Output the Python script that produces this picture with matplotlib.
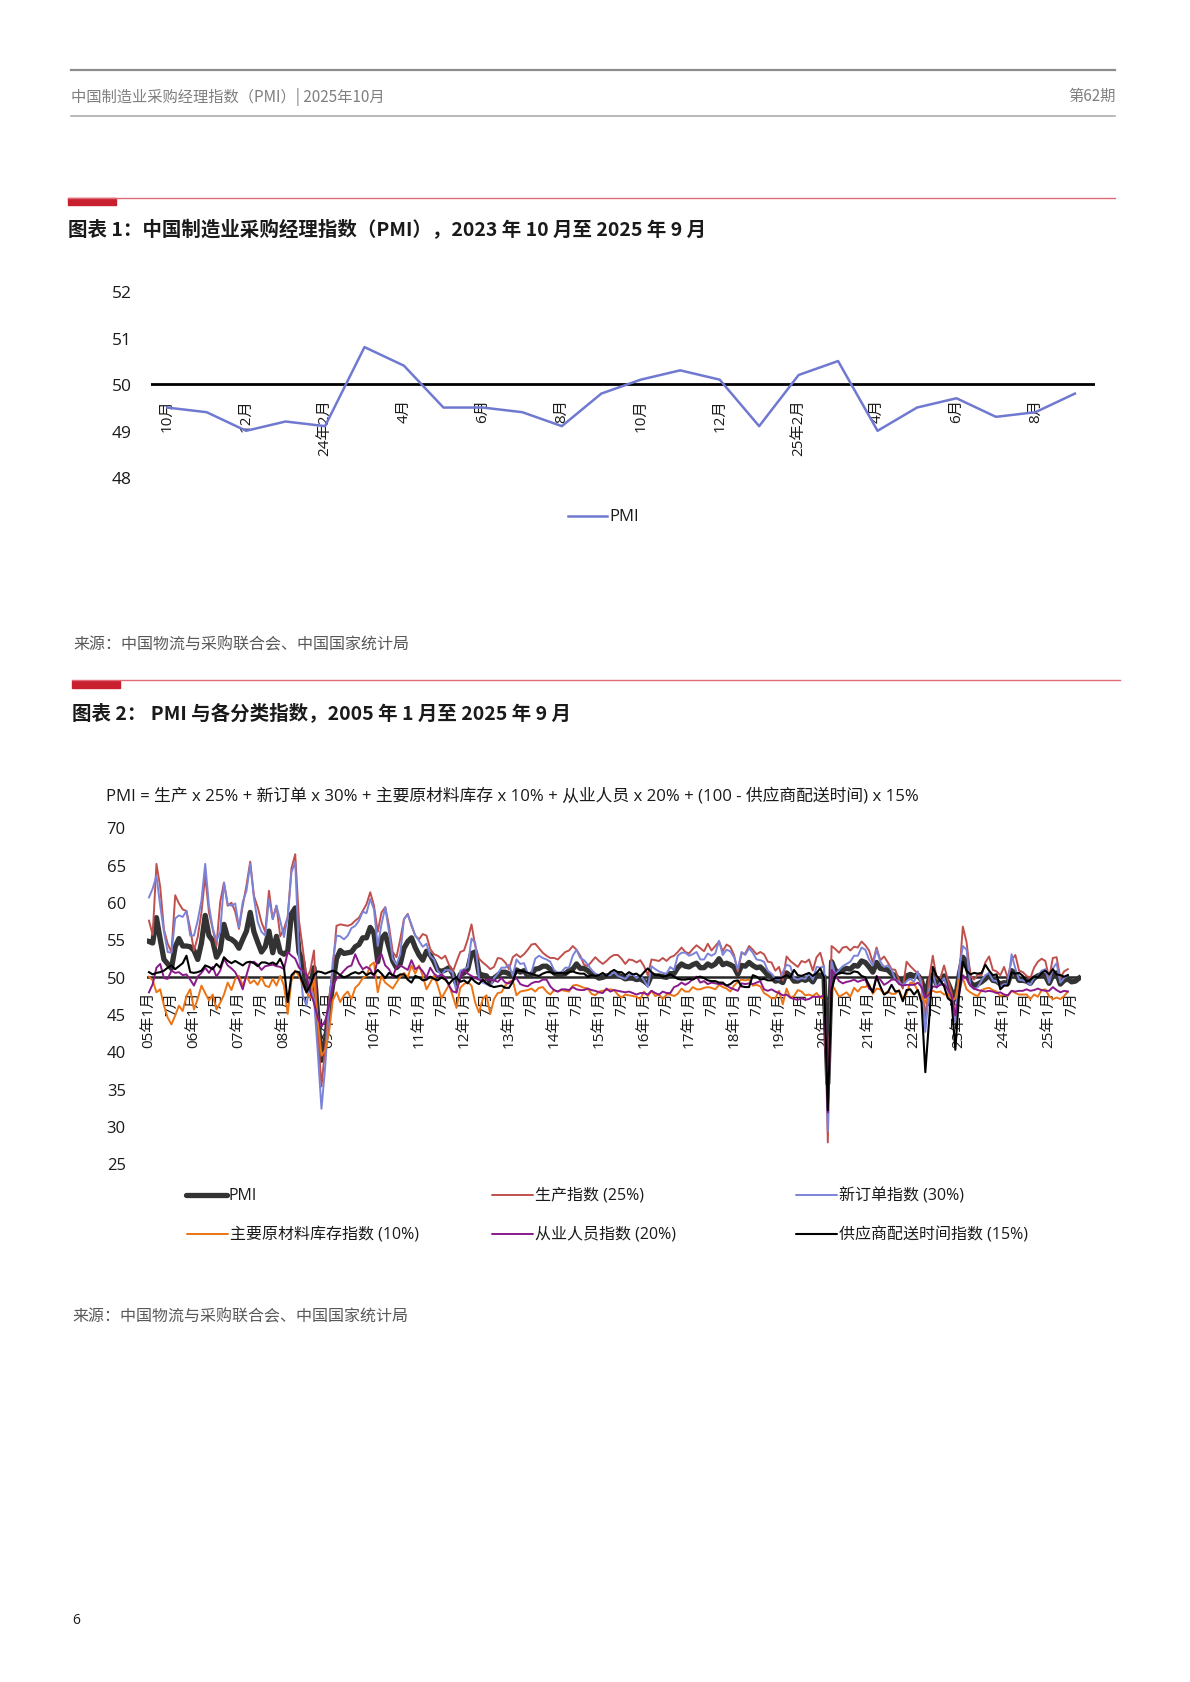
import matplotlib
matplotlib.use('Agg')
import matplotlib.pyplot as plt
from matplotlib.lines import Line2D
from matplotlib.patches import Rectangle
import numpy as np

plt.rcParams['font.family'] = ['Open Sans', 'Noto Sans CJK SC', 'DejaVu Sans']
CJK = ['Noto Sans CJK SC', 'DejaVu Sans']

W, H = 1190, 1683

# ---- data: PMI 2005-01 .. 2025-09 (monthly)
pmi = [
    54.7, 54.5, 57.9, 55.0, 52.3, 51.7, 51.1, 54.0, 55.1, 54.1, 54.1, 54.0,  # 2005
    53.5, 52.3, 54.5, 58.2, 55.5, 54.8, 52.6, 53.5, 57.0, 55.2, 55.0, 54.6,  # 2006
    53.8, 55.0, 56.1, 58.6, 56.0, 54.6, 53.3, 54.0, 56.1, 53.2, 55.4, 53.3,  # 2007
    53.0, 53.4, 58.4, 59.2, 53.3, 52.0, 48.4, 48.4, 51.2, 44.6, 38.8, 41.2,  # 2008
    45.3, 49.0, 52.4, 53.5, 53.1, 53.2, 53.3, 54.0, 54.3, 55.2, 55.2, 56.6,  # 2009
    55.8, 52.0, 55.1, 55.7, 53.9, 52.1, 51.2, 51.7, 53.8, 54.7, 55.2, 53.9,  # 2010
    52.9, 52.2, 53.4, 52.9, 52.0, 50.9, 50.7, 50.9, 51.2, 50.4, 49.0, 50.3,  # 2011
    50.5, 51.0, 53.1, 53.3, 50.4, 50.2, 50.1, 49.2, 49.8, 50.2, 50.6, 50.6,  # 2012
    50.4, 50.1, 50.9, 50.6, 50.8, 50.1, 50.3, 51.0, 51.1, 51.4, 51.4, 51.0,  # 2013
    50.5, 50.2, 50.3, 50.4, 50.8, 51.0, 51.7, 51.1, 51.1, 50.8, 50.3, 50.1,  # 2014
    49.8, 49.9, 50.1, 50.1, 50.2, 50.2, 50.0, 49.7, 49.8, 49.8, 49.6, 49.7,  # 2015
    49.4, 49.0, 50.2, 50.1, 50.1, 50.0, 49.9, 50.4, 50.4, 51.2, 51.7, 51.4,  # 2016
    51.3, 51.6, 51.8, 51.2, 51.2, 51.7, 51.4, 51.7, 52.4, 51.6, 51.8, 51.6,  # 2017
    51.3, 50.3, 51.5, 51.4, 51.9, 51.5, 51.2, 51.3, 50.8, 50.2, 50.0, 49.4,  # 2018
    49.5, 49.2, 50.5, 50.1, 49.4, 49.4, 49.7, 49.5, 49.8, 49.3, 50.2, 50.2,  # 2019
    50.0, 35.7, 52.0, 50.8, 50.6, 50.9, 51.1, 51.0, 51.5, 51.4, 52.1, 51.9,  # 2020
    51.3, 50.6, 51.9, 51.1, 51.0, 50.9, 50.4, 50.1, 49.6, 49.2, 50.1, 50.3,  # 2021
    50.1, 50.2, 49.5, 47.4, 49.6, 50.2, 49.0, 49.4, 50.1, 49.2, 48.0, 47.0,  # 2022
    50.1, 52.6, 51.9, 49.2, 48.8, 49.0, 49.3, 49.7, 50.2, 49.5, 49.4, 49.0,  # 2023
    49.2, 49.1, 50.8, 50.4, 49.5, 49.5, 49.4, 49.1, 49.8, 50.1, 50.3, 50.1,  # 2024
    49.1, 50.2, 50.5, 49.0, 49.5, 49.7, 49.3, 49.4, 49.8,                    # 2025
]

# sub-indices 2005-01 .. 2025-06
production = [
    57.5, 55.6, 65.1, 62.0, 56.3, 54.4, 53.3, 60.9, 59.8, 59.0, 58.8, 56.4,
    53.5, 55.3, 58.6, 63.5, 58.6, 56.4, 54.1, 60.0, 62.6, 59.5, 59.9, 58.7,
    56.4, 59.5, 62.2, 65.4, 60.8, 59.3, 57.3, 56.0, 61.5, 57.7, 59.5, 55.4,
    56.4, 58.0, 64.5, 66.4, 57.5, 53.8, 49.8, 50.8, 53.5, 43.0, 35.3, 40.5,
    46.5, 51.0, 56.8, 57.0, 56.9, 56.8, 57.0, 57.5, 57.9, 58.8, 59.7, 61.3,
    59.5, 56.0, 58.6, 59.3, 56.8, 53.3, 52.6, 55.0, 57.7, 58.4, 56.8, 55.5,
    55.0, 55.7, 55.5, 53.7, 53.0, 52.8, 52.4, 52.8, 51.6, 50.6, 52.0, 53.3,
    53.5, 55.0, 57.0, 54.1, 52.4, 51.9, 51.5, 51.0, 51.3, 52.5, 52.4, 51.9,
    51.0, 52.6, 53.0, 52.6, 53.0, 53.6, 54.3, 54.4, 53.8, 53.2, 52.8, 52.5,
    52.5, 52.3, 52.8, 53.3, 53.5, 54.1, 53.6, 52.8, 51.6, 51.4, 52.0, 52.6,
    52.1, 51.7, 52.1, 52.6, 52.9, 52.9, 52.4, 51.7, 52.3, 52.2, 51.9, 52.2,
    51.4, 50.2, 52.3, 52.2, 52.1, 52.5, 52.1, 52.6, 52.8, 53.3, 53.9, 53.3,
    53.1, 53.7, 54.2, 53.8, 53.4, 54.4, 53.5, 54.1, 54.7, 53.4, 54.3, 54.0,
    52.9, 50.7, 53.1, 53.1, 54.1, 53.6, 53.0, 53.3, 53.0, 52.0, 51.9, 50.8,
    51.3, 49.5, 52.7, 52.1, 51.7, 51.3, 52.1, 51.9, 52.3, 50.8, 52.6, 53.2,
    51.3, 27.8, 54.1, 53.7, 53.2, 53.9, 54.0, 53.5, 54.0, 53.9, 54.7, 54.2,
    53.5, 51.9, 53.9, 52.2, 52.7, 51.9, 51.0, 50.9, 49.5, 48.4, 52.0, 51.4,
    50.9, 50.4, 49.5, 44.4, 49.7, 52.8, 49.8, 49.8, 51.5, 49.6, 47.8, 44.6,
    49.8, 56.7, 54.6, 50.2, 49.6, 50.3, 50.2, 51.9, 52.7, 50.9, 50.7, 50.2,
    51.3, 49.8, 52.2, 52.9, 50.8, 50.6, 50.1, 49.8, 51.2, 52.0, 52.4, 52.1,
    49.8, 52.5, 52.6, 49.8, 50.7, 51.0,
]

new_orders = [
    60.6, 61.8, 63.5, 59.5, 56.0, 53.3, 53.2, 57.8, 58.2, 58.0, 58.8, 55.5,
    55.5, 57.5, 60.2, 65.1, 59.5, 56.5, 54.8, 56.0, 62.6, 59.7, 59.5, 59.8,
    56.6, 60.0, 61.5, 65.1, 60.5, 57.3, 56.0, 55.5, 60.4, 57.7, 59.5, 57.5,
    55.3, 58.0, 64.0, 65.3, 53.0, 47.5, 46.1, 49.5, 47.0, 40.0, 32.3, 38.0,
    45.5, 52.0, 55.5, 55.4, 55.0, 55.5, 56.5, 56.8, 57.5, 58.7, 58.5, 60.4,
    59.0, 54.1, 57.0, 59.3, 56.0, 52.4, 51.6, 53.0, 57.7, 58.3, 57.0, 55.5,
    54.8, 54.0, 54.4, 52.8, 52.3, 50.8, 50.2, 50.9, 50.9, 50.5, 47.8, 50.8,
    51.0, 51.3, 55.1, 54.5, 49.8, 49.2, 49.0, 48.7, 49.8, 50.4, 51.2, 51.2,
    51.6, 50.1, 52.3, 51.7, 51.8, 50.4, 50.6, 52.4, 52.8, 52.5, 52.3, 52.0,
    50.9, 50.5, 50.6, 51.2, 51.2, 52.8, 53.6, 52.5, 52.2, 51.6, 50.9, 50.4,
    50.2, 50.4, 50.2, 50.2, 50.6, 50.1, 49.9, 49.7, 50.2, 50.3, 49.8, 50.2,
    49.5, 48.6, 51.4, 51.0, 50.7, 50.5, 50.4, 51.3, 50.9, 52.8, 53.2, 53.2,
    52.8, 53.0, 53.3, 52.3, 52.3, 53.1, 52.8, 53.1, 54.8, 52.9, 53.6, 53.4,
    52.6, 51.0, 53.3, 52.9, 53.8, 53.2, 52.3, 52.2, 52.0, 50.8, 50.4, 49.7,
    49.6, 50.6, 51.6, 51.4, 49.8, 49.6, 49.8, 49.7, 50.5, 49.6, 51.3, 51.2,
    51.4, 29.3, 52.0, 50.2, 50.9, 51.4, 51.7, 52.0, 52.8, 52.8, 53.9, 53.6,
    52.3, 51.5, 53.6, 52.0, 51.3, 51.5, 50.9, 49.6, 49.3, 48.8, 49.4, 49.7,
    49.3, 50.7, 48.8, 42.6, 48.2, 50.4, 48.5, 49.2, 49.8, 48.1, 46.4, 43.9,
    50.9, 54.1, 53.6, 48.8, 48.3, 48.6, 49.5, 50.2, 50.5, 49.5, 49.4, 48.7,
    49.0, 49.0, 53.0, 51.1, 49.6, 49.5, 49.3, 48.9, 49.9, 50.0, 50.8, 51.0,
    49.2, 51.1, 51.8, 49.2, 49.8, 50.2,
]

inventory = [
    50.0, 49.5, 47.9, 48.3, 46.1, 44.5, 43.6, 44.8, 46.1, 45.4, 47.4, 48.3,
    45.6, 47.0, 48.8, 47.8, 46.8, 47.6, 45.6, 46.5, 47.6, 49.2, 48.2, 49.7,
    50.1, 48.8, 50.1, 49.1, 49.5, 48.9, 49.9, 48.8, 48.6, 49.7, 48.8, 50.1,
    48.8, 45.0, 49.5, 50.8, 50.1, 49.0, 47.9, 47.2, 49.6, 44.1, 39.4, 40.2,
    42.5, 46.8, 47.9, 46.6, 47.5, 48.0, 47.0, 48.5, 49.0, 49.8, 50.1, 51.5,
    51.9, 47.9, 50.1, 49.2, 48.8, 48.4, 49.2, 50.0, 50.5, 49.9, 51.5, 50.4,
    51.5, 50.1, 48.3, 49.2, 50.1, 48.8, 47.1, 48.0, 48.9, 47.4, 45.8, 48.5,
    49.0, 49.3, 48.8, 46.5, 45.2, 47.0, 47.5, 45.0, 47.0, 47.8, 47.9, 48.8,
    49.3, 49.5, 47.5, 48.0, 48.1, 48.2, 48.4, 48.0, 48.5, 48.6, 48.0, 47.6,
    48.2, 48.0, 48.2, 48.1, 48.0, 48.8, 48.9, 48.7, 48.5, 48.4, 47.7, 47.5,
    48.0, 48.1, 48.2, 48.3, 48.2, 47.6, 47.2, 47.6, 47.5, 47.4, 47.3, 47.0,
    48.0, 47.4, 48.1, 47.4, 47.6, 47.0, 47.6, 47.6, 47.4, 47.7, 48.4, 48.0,
    48.0, 48.6, 48.3, 48.3, 48.5, 48.6, 48.5, 48.3, 48.9, 48.6, 48.4, 48.0,
    48.8, 49.3, 49.6, 49.5, 49.6, 48.8, 48.9, 48.7, 47.8, 47.5, 47.1, 47.1,
    48.1, 46.3, 48.4, 47.2, 47.4, 48.2, 48.0, 47.5, 47.6, 47.4, 47.8, 47.2,
    47.1, 32.9, 49.0, 48.2, 47.3, 47.6, 47.9, 47.3, 48.5, 48.0, 48.6, 48.6,
    49.0, 47.7, 48.4, 48.3, 47.7, 48.0, 47.7, 47.7, 48.2, 47.0, 47.7, 49.2,
    49.1, 48.1, 47.3, 46.5, 47.9, 48.1, 47.9, 48.0, 47.6, 47.7, 46.7, 47.1,
    49.6, 49.8, 48.3, 47.9, 47.6, 47.4, 48.2, 48.4, 48.5, 48.2, 48.0, 47.4,
    47.6, 47.4, 48.1, 47.8, 47.6, 47.6, 47.6, 47.0, 47.6, 47.3, 48.2, 48.3,
    47.4, 47.0, 47.2, 47.0, 47.4, 48.0,
]

employment = [
    47.9, 49.0, 51.2, 51.7, 49.8, 49.7, 50.8, 50.5, 50.6, 50.2, 50.3, 49.6,
    48.8, 50.0, 50.5, 51.2, 50.5, 51.3, 50.0, 50.8, 52.4, 51.5, 51.1, 50.6,
    49.6, 48.3, 50.2, 51.9, 52.0, 51.6, 50.9, 51.4, 51.5, 51.6, 51.4, 51.3,
    51.0, 53.3, 52.8, 52.4, 51.2, 50.8, 50.3, 47.9, 46.5, 44.5, 43.3, 44.1,
    46.1, 48.8, 49.7, 50.2, 50.8, 51.3, 51.5, 53.0, 51.8, 51.0, 51.3, 51.0,
    50.0, 52.4, 53.0, 51.5, 51.0, 50.0, 51.3, 51.5, 51.2, 50.9, 52.2, 51.0,
    51.3, 50.7, 49.9, 51.2, 50.4, 50.0, 50.3, 49.9, 48.8, 48.0, 47.9, 49.9,
    50.9, 50.4, 50.1, 49.8, 49.6, 49.4, 49.6, 49.6, 49.5, 49.3, 49.8, 49.2,
    49.1, 49.5, 49.8, 49.0, 48.8, 48.7, 49.1, 49.3, 49.3, 49.6, 49.6, 48.7,
    48.2, 48.0, 48.3, 48.3, 48.2, 48.6, 48.3, 48.2, 48.2, 48.4, 48.2, 48.1,
    47.9, 47.8, 48.4, 48.0, 48.2, 48.1, 48.0, 47.9, 48.0, 47.8, 47.6, 47.8,
    47.8, 47.6, 48.1, 47.8, 47.6, 48.0, 47.8, 47.8, 48.6, 48.8, 49.2, 48.9,
    49.2, 49.7, 50.0, 49.2, 49.4, 49.0, 49.2, 49.1, 49.0, 49.0, 48.8, 48.5,
    48.3, 48.1, 49.1, 49.0, 49.1, 49.0, 49.2, 49.4, 48.3, 48.1, 48.3, 48.0,
    47.8, 47.5, 47.6, 47.2, 47.0, 46.9, 47.1, 46.9, 47.0, 47.3, 47.3, 47.3,
    47.5, 31.8, 50.9, 50.2, 49.4, 49.1, 49.3, 49.4, 49.6, 49.3, 49.5, 49.6,
    48.4, 48.1, 50.1, 49.6, 48.9, 49.2, 49.6, 49.6, 49.0, 48.8, 48.9, 48.9,
    48.9, 49.2, 48.6, 47.2, 47.6, 48.7, 48.6, 48.9, 49.0, 48.3, 47.4, 44.8,
    47.7, 50.2, 49.7, 48.8, 48.4, 48.2, 48.1, 48.0, 48.1, 48.0, 47.8, 47.9,
    47.6, 47.5, 48.1, 48.0, 48.1, 48.1, 48.3, 48.1, 48.2, 48.4, 48.2, 48.1,
    48.1, 48.6, 48.2, 47.9, 48.1, 48.0,
]

delivery = [
    50.6, 50.3, 50.5, 50.6, 50.8, 51.2, 51.5, 51.0, 51.4, 51.8, 52.8, 50.6,
    50.5, 50.6, 50.8, 51.5, 51.3, 51.0, 51.7, 51.2, 52.6, 52.1, 51.8, 52.1,
    51.8, 51.5, 51.9, 52.0, 51.8, 51.4, 51.9, 51.9, 51.7, 51.9, 51.6, 52.4,
    51.2, 46.6, 50.2, 50.7, 50.6, 49.2, 47.9, 48.8, 50.2, 50.7, 50.6, 50.4,
    50.6, 50.8, 50.6, 50.2, 49.9, 50.1, 50.4, 50.6, 50.4, 50.7, 50.2, 50.5,
    50.3, 50.9, 50.4, 49.8, 50.5, 50.2, 50.0, 50.3, 50.3, 49.6, 49.2, 50.1,
    49.9, 49.5, 49.6, 50.0, 49.7, 49.5, 49.9, 49.6, 49.0, 49.6, 49.9, 49.3,
    49.5, 49.1, 49.8, 49.3, 49.0, 49.6, 49.1, 48.8, 48.6, 48.7, 48.8, 48.5,
    48.5, 49.3, 50.8, 50.8, 50.7, 50.5, 50.4, 50.2, 50.1, 50.4, 50.6, 50.6,
    50.4, 50.5, 50.5, 50.4, 50.6, 50.7, 50.5, 50.4, 50.4, 50.0, 50.2, 50.1,
    50.2, 50.5, 50.1, 50.6, 50.9, 50.6, 50.6, 50.2, 50.6, 50.3, 50.4, 50.0,
    50.6, 51.1, 50.6, 50.2, 50.2, 50.0, 50.1, 50.3, 50.0, 49.7, 49.6, 49.6,
    49.7, 49.6, 49.9, 50.0, 49.8, 49.5, 49.4, 49.4, 49.2, 49.2, 48.8, 49.0,
    49.4, 49.5, 48.7, 48.6, 48.6, 50.2, 50.0, 49.6, 49.7, 49.5, 49.5, 49.8,
    49.8, 49.9, 50.2, 49.9, 50.9, 50.2, 50.1, 50.3, 50.5, 50.1, 50.5, 51.1,
    49.9, 32.1, 48.2, 50.1, 50.5, 50.5, 50.4, 50.4, 50.7, 50.6, 50.1, 49.9,
    48.8, 47.9, 50.0, 48.7, 47.6, 47.9, 48.9, 48.0, 48.1, 46.7, 48.2, 48.3,
    47.6, 48.2, 46.5, 37.2, 44.1, 51.3, 50.1, 49.5, 48.7, 47.1, 46.7, 40.2,
    47.6, 52.0, 50.8, 50.3, 50.5, 50.4, 50.5, 51.6, 50.8, 50.2, 50.3, 48.3,
    48.8, 48.8, 50.6, 50.4, 50.5, 50.1, 49.3, 49.6, 50.0, 49.9, 50.5, 50.8,
    50.3, 51.0, 50.3, 50.2, 50.0, 50.2,
]

years = list(range(2005, 2026))
recent_labels = ['10月', '12月', '24年2月', '4月', '6月', '8月',
                 '10月', '12月', '25年2月', '4月', '6月', '8月']
pmi_recent = pmi[-24:]  # 2023-10 .. 2025-09


def fx(x):
    return x / W


def fy(y):
    return 1 - y / H


def px_axes(x0, y0, x1, y1):
    return fig.add_axes([fx(x0), fy(y1), (x1 - x0) / W, (y1 - y0) / H])


fig = plt.figure(figsize=(W / 100, H / 100), dpi=100)

# ---- page header
fig.add_artist(Line2D([fx(70.6), fx(1115.3)], [fy(70.7)] * 2, color='#8c8c8c', lw=1.6))
fig.add_artist(Line2D([fx(70.6), fx(1115.3)], [fy(117.3)] * 2, color='#a6a6a6', lw=1.1))
fig.text(fx(70.6), fy(96.7), '中国制造业采购经理指数（PMI）| 2025年10月', color='#7f7f7f',
         fontsize=11, va='center', ha='left', family=CJK)
fig.text(fx(1115.3), fy(96.7), '第62期', color='#7f7f7f', fontsize=11, va='center',
         ha='right', family=CJK)


def section_bar(x0, x1, y):
    fig.add_artist(Line2D([fx(x0), fx(x1)], [fy(y)] * 2, color='#E06B78', lw=1.0))
    fig.add_artist(Rectangle((fx(x0), fy(y + 7.5)), 48 / W, 7 / H, color='#C8202F',
                             transform=fig.transFigure))


section_bar(68.3, 1115.3, 198.6)
fig.text(fx(68.3), fy(230), '图表 1：中国制造业采购经理指数（PMI），2023 年 10 月至 2025 年 9 月',
         fontsize=14, fontweight='bold', color='#1a1a1a', va='center', ha='left', family=CJK)

# ---- chart 1
ax1 = px_axes(151.4, 292.3, 1094.6, 478.3)
line1, = ax1.plot(range(len(pmi_recent)), pmi_recent, color='#7079D0', lw=1.8, zorder=3)
ax1.axhline(50, color='black', lw=2.0, zorder=2)
ax1.set_xlim(-0.4, 23.5)
ax1.set_ylim(48, 52)
for s in ax1.spines.values():
    s.set_visible(False)
ax1.spines['bottom'].set_position(('data', 50))
ax1.set_xticks(range(0, 24, 2))
ax1.set_xticklabels(recent_labels, rotation=90)
ax1.set_yticks([48, 49, 50, 51, 52])
ax1.tick_params(axis='x', length=0, pad=10, labelsize=11, labelcolor='#1a1a1a')
ax1.tick_params(axis='y', length=0, pad=14, labelsize=12.5, labelcolor='#1a1a1a')
ax1.patch.set_alpha(0)

fig.add_artist(Line2D([fx(567.5), fx(607)], [fy(517)] * 2, color=line1.get_color(), lw=1.8))
fig.text(fx(609), fy(517), 'PMI', fontsize=12, va='center', ha='left', color='#1a1a1a')

fig.text(fx(73.3), fy(645), '来源：中国物流与采购联合会、中国国家统计局', color='#595959',
         fontsize=11.5, va='center', ha='left', family=CJK)

# ---- chart 2
section_bar(72, 1120, 681.2)
fig.text(fx(72.5), fy(713.3), '图表 2： PMI 与各分类指数，2005 年 1 月至 2025 年 9 月',
         fontsize=14, fontweight='bold', color='#1a1a1a', va='center', ha='left', family=CJK)
fig.text(fx(106.4), fy(796.5),
         'PMI = 生产 x 25% + 新订单 x 30% + 主要原材料库存 x 10% + 从业人员 x 20% + (100 - 供应商配送时间) x 15%',
         fontsize=12.1, color='#1a1a1a', va='center', ha='left')

ax2 = px_axes(146.7, 828.3, 1080.6, 1164.3)
ax2.axhline(50, color='#262626', lw=1.8, zorder=1)
series = [
    (pmi, 'PMI', '#333333', 3.8),
    (production, '生产指数 (25%)', '#C0504D', 1.4),
    (new_orders, '新订单指数 (30%)', '#7B83D8', 1.4),
    (inventory, '主要原材料库存指数 (10%)', '#EC7414', 1.4),
    (employment, '从业人员指数 (20%)', '#8A1A8A', 1.4),
    (delivery, '供应商配送时间指数 (15%)', '#000000', 1.5),
]
handles = []
for vals, name, col, lw in series:
    ln, = ax2.plot(np.arange(len(vals)), vals, color=col, lw=lw, label=name,
                   solid_joinstyle='round', zorder=2)
    handles.append(ln)
ax2.set_xlim(-0.6, 248.4)
ax2.set_ylim(25, 70)
for s in ax2.spines.values():
    s.set_visible(False)
ax2.spines['bottom'].set_position(('data', 50))
ticks2 = list(range(0, len(pmi), 6))
labels2 = []
for y in years:
    labels2 += [f'{y % 100:02d}年1月', '7月']
ax2.set_xticks(ticks2)
ax2.set_xticklabels(labels2[:len(ticks2)], rotation=90)
ax2.set_yticks(range(25, 71, 5))
ax2.tick_params(axis='x', length=0, pad=10, labelsize=11, labelcolor='#1a1a1a')
ax2.tick_params(axis='y', length=0, pad=15, labelsize=12, labelcolor='#1a1a1a')
ax2.patch.set_alpha(0)

# legend, placed like the report's two rows
leg_pos = [(185.6, 1196), (491.6, 1196), (795.8, 1196),
           (187.0, 1235), (491.6, 1235), (795.8, 1235)]
for (x, y), h in zip(leg_pos, handles):
    fig.add_artist(Line2D([fx(x), fx(x + 41)], [fy(y)] * 2, color=h.get_color(),
                          lw=h.get_linewidth(), solid_capstyle='round'))
    fig.text(fx(x + 43), fy(y), h.get_label(), fontsize=11.5, va='center', ha='left',
             color='#1a1a1a')

fig.text(fx(72), fy(1316.7), '来源：中国物流与采购联合会、中国国家统计局', color='#595959',
         fontsize=11.5, va='center', ha='left', family=CJK)

fig.text(fx(72), fy(1621), '6', fontsize=10, color='#1a1a1a', va='center', ha='left')

fig.savefig('out.png', dpi=100)
